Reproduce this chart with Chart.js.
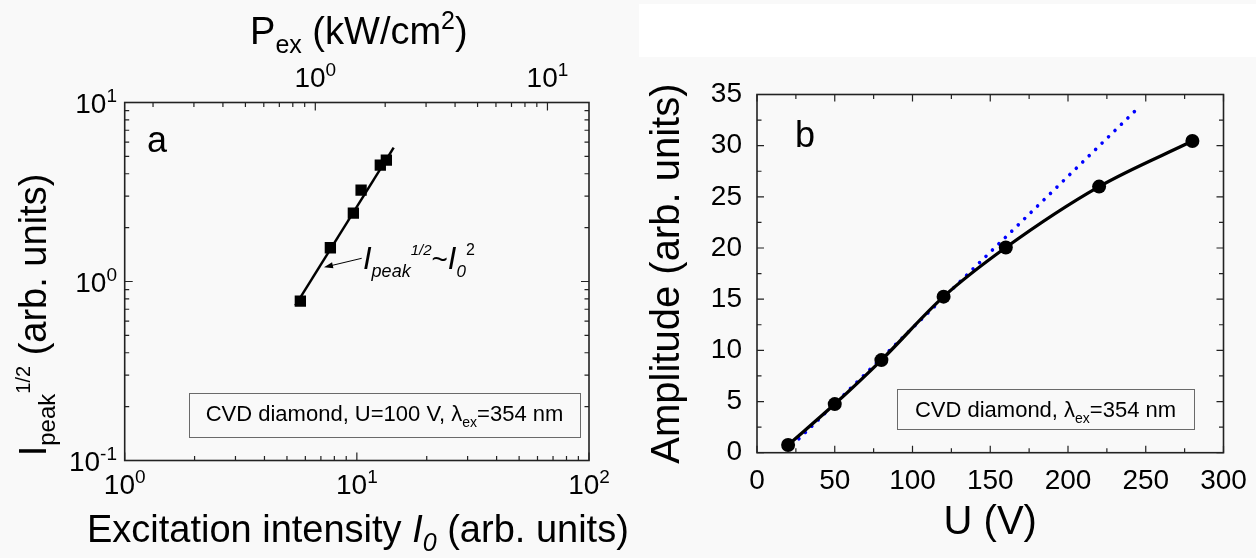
<!DOCTYPE html>
<html>
<head>
<meta charset="utf-8">
<script src="https://cdn.jsdelivr.net/npm/chart.js@4.4.1/dist/chart.umd.min.js"></script>
<style>
  html, body { margin: 0; padding: 0; background: #f9f9f9; }
  body { width: 1256px; height: 558px; position: relative; overflow: hidden; }
  #hoja { position: absolute; left: 639px; top: 4px; width: 617px; height: 53px; background: #fff; }
  #graficoA { position: absolute; left: 0; top: 0; }
  #graficoB { position: absolute; left: 640px; top: 0; }
</style>
</head>
<body>
<div id="hoja"></div>
<canvas id="graficoA" width="640" height="558"></canvas>
<canvas id="graficoB" width="616" height="558"></canvas>
<script>
// --- DATOS PANEL A (log-log) ---
const intensidadI0 = [5.71, 7.69, 9.66, 10.43, 12.62, 13.40];
const picoRaiz = [0.776, 1.544, 2.41, 3.24, 4.47, 4.77];
const ajusteI0 = [5.43, 14.41];
const ajustePico = [0.734, 5.60];
const ticksI0 = [1, 2, 3, 4, 5, 6, 7, 8, 9, 10, 20, 30, 40, 50, 60, 70, 80, 90, 100];
const ticksPico = [0.1, 0.2, 0.3, 0.4, 0.5, 0.6, 0.7, 0.8, 0.9, 1, 2, 3, 4, 5, 6, 7, 8, 9, 10];
const ticksPex = [0.2, 0.3, 0.4, 0.5, 0.6, 0.7, 0.8, 0.9, 1, 2, 3, 4, 5, 6, 7, 8, 9, 10];
const rangoPex = [0.151, 15.1];

// --- DATOS PANEL B (lineal) ---
const voltajeU = [20, 50, 80, 120, 160, 220, 280];
const amplitud = [0.75, 4.75, 9.05, 15.25, 20.05, 26.0, 30.45];
const rectaU = [22.8, 243.5];
const rectaAmp = [0.75, 33.45];
const ticksU = [0, 25, 50, 75, 100, 125, 150, 175, 200, 225, 250, 275, 300];
const ticksAmp = [0, 2.5, 5, 7.5, 10, 12.5, 15, 17.5, 20, 22.5, 25, 27.5, 30, 32.5, 35];

const F = '"Liberation Sans", Arial, Helvetica, sans-serif';

function esDecada(v) {
    const l = Math.log10(v);
    return Math.abs(l - Math.round(l)) < 1e-6;
}

// dibuja texto con sub/superindices: tramos = [{t, f, dy}]
function dibujarTramos(ctx, tramos, x, y, alinear) {
    let ancho = 0;
    tramos.forEach(tr => { ctx.font = tr.f; ancho += ctx.measureText(tr.t).width; });
    let cx = x;
    if (alinear === 'center') cx = x - ancho / 2;
    if (alinear === 'right') cx = x - ancho;
    ctx.textAlign = 'left';
    ctx.textBaseline = 'alphabetic';
    tramos.forEach(tr => {
        ctx.font = tr.f;
        ctx.fillText(tr.t, cx, y + (tr.dy || 0));
        cx += ctx.measureText(tr.t).width;
    });
}

function etiquetaPotencia(ctx, valor, x, y, alinear) {
    const exp = String(Math.round(Math.log10(valor)));
    dibujarTramos(ctx, [
        { t: '10', f: '28px ' + F },
        { t: exp, f: '19px ' + F, dy: -11 }
    ], x, y, alinear);
}

function leyenda(ctx, x, y, w, h, tramos, base) {
    ctx.strokeStyle = '#6a6a6a';
    ctx.lineWidth = 1;
    ctx.strokeRect(x + 0.5, y + 0.5, w, h);
    dibujarTramos(ctx, tramos, x + w / 2, base, 'center');
}

// --- PLUGIN PANEL A: marco, ticks, etiquetas y titulos ---
const marcoA = {
    id: 'marcoA',
    afterDatasetsDraw(chart) {
        const { ctx, chartArea: a, scales } = chart;
        const sx = scales.x, sy = scales.y, sp = scales.xP;
        ctx.save();
        ctx.strokeStyle = '#222';
        ctx.lineWidth = 1.6;
        ctx.strokeRect(a.left, a.top, a.right - a.left, a.bottom - a.top);

        ctx.lineWidth = 1.2;
        ctx.beginPath();
        ticksI0.forEach(v => {
            const px = sx.getPixelForValue(v), l = esDecada(v) ? 8 : 4.5;
            ctx.moveTo(px, a.bottom); ctx.lineTo(px, a.bottom - l);
        });
        ticksPex.forEach(v => {
            const px = sp.getPixelForValue(v), l = esDecada(v) ? 8 : 4.5;
            ctx.moveTo(px, a.top); ctx.lineTo(px, a.top + l);
        });
        ticksPico.forEach(v => {
            const py = sy.getPixelForValue(v), l = esDecada(v) ? 8 : 4.5;
            ctx.moveTo(a.left, py); ctx.lineTo(a.left + l, py);
            ctx.moveTo(a.right, py); ctx.lineTo(a.right - l, py);
        });
        ctx.stroke();

        ctx.fillStyle = '#000';
        ticksI0.filter(esDecada).forEach(v => etiquetaPotencia(ctx, v, sx.getPixelForValue(v), 494, 'center'));
        ticksPex.filter(esDecada).forEach(v => etiquetaPotencia(ctx, v, sp.getPixelForValue(v), 87, 'center'));
        ticksPico.filter(esDecada).forEach(v => etiquetaPotencia(ctx, v, 117, sy.getPixelForValue(v) + 10, 'right'));

        // titulos de ejes
        dibujarTramos(ctx, [
            { t: 'Excitation intensity ', f: '38px ' + F },
            { t: 'I', f: 'italic 38px ' + F },
            { t: '0', f: 'italic 25px ' + F, dy: 9 },
            { t: ' (arb. units)', f: '38px ' + F }
        ], (a.left + a.right) / 2 + 1, 542, 'center');

        dibujarTramos(ctx, [
            { t: 'P', f: '38px ' + F },
            { t: 'ex', f: '25px ' + F, dy: 9 },
            { t: ' (kW/cm', f: '38px ' + F },
            { t: '2', f: '25px ' + F, dy: -15 },
            { t: ')', f: '38px ' + F }
        ], (a.left + a.right) / 2 + 2, 44, 'center');

        ctx.save();
        ctx.translate(46, 315);
        ctx.rotate(-Math.PI / 2);
        dibujarTramos(ctx, [
            { t: 'I', f: '38px ' + F },
            { t: 'peak', f: '24px ' + F, dy: 9 },
            { t: '1/2', f: '20px ' + F, dy: -16 },
            { t: ' (arb. units)', f: '38px ' + F }
        ], 0, 0, 'center');
        ctx.restore();

        // letra del panel
        ctx.font = '36px ' + F;
        ctx.textAlign = 'left';
        ctx.fillText('a', 147, 152);

        // anotacion con flecha
        dibujarTramos(ctx, [
            { t: 'I', f: 'italic 31px ' + F },
            { t: 'peak', f: 'italic 18px ' + F, dy: 8 },
            { t: '1/2', f: 'italic 15px ' + F, dy: -14 },
            { t: '~', f: '28px ' + F },
            { t: 'I', f: 'italic 31px ' + F },
            { t: '0', f: 'italic 17px ' + F, dy: 8 },
            { t: '2', f: '16px ' + F, dy: -14 }
        ], 363, 269, 'left');
        const x0 = 361.7, y0 = 258.3, x1 = 324, y1 = 267.3;
        const ang = Math.atan2(y1 - y0, x1 - x0);
        ctx.strokeStyle = '#000';
        ctx.lineWidth = 1;
        ctx.beginPath();
        ctx.moveTo(x0, y0); ctx.lineTo(x1 - 6 * Math.cos(ang), y1 - 6 * Math.sin(ang));
        ctx.stroke();
        ctx.beginPath();
        ctx.moveTo(x1, y1);
        ctx.lineTo(x1 - 9 * Math.cos(ang) + 3 * Math.sin(ang), y1 - 9 * Math.sin(ang) - 3 * Math.cos(ang));
        ctx.lineTo(x1 - 9 * Math.cos(ang) - 3 * Math.sin(ang), y1 - 9 * Math.sin(ang) + 3 * Math.cos(ang));
        ctx.closePath();
        ctx.fill();

        leyenda(ctx, 189, 393, 391, 44, [
            { t: 'CVD diamond, U=100 V, λ', f: '22px ' + F },
            { t: 'ex', f: '14px ' + F, dy: 6 },
            { t: '=354 nm', f: '22px ' + F }
        ], 421);
        ctx.restore();
    }
};

// --- PLUGIN PANEL B ---
const marcoB = {
    id: 'marcoB',
    afterDatasetsDraw(chart) {
        const { ctx, chartArea: a, scales } = chart;
        const sx = scales.x, sy = scales.y;
        ctx.save();
        ctx.strokeStyle = '#222';
        ctx.lineWidth = 1.6;
        ctx.strokeRect(a.left, a.top, a.right - a.left, a.bottom - a.top);
        ctx.lineWidth = 1.2;
        ctx.beginPath();
        ticksU.forEach(v => {
            const px = sx.getPixelForValue(v), l = v % 50 === 0 ? 7 : 4.5;
            ctx.moveTo(px, a.bottom); ctx.lineTo(px, a.bottom - l);
            ctx.moveTo(px, a.top); ctx.lineTo(px, a.top + l);
        });
        ticksAmp.forEach(v => {
            const py = sy.getPixelForValue(v), l = v % 5 === 0 ? 7 : 4.5;
            ctx.moveTo(a.left, py); ctx.lineTo(a.left + l, py);
            ctx.moveTo(a.right, py); ctx.lineTo(a.right - l, py);
        });
        ctx.stroke();

        ctx.fillStyle = '#000';
        ctx.font = '36px ' + F;
        ctx.textAlign = 'left';
        ctx.textBaseline = 'alphabetic';
        ctx.fillText('b', 155, 147);

        leyenda(ctx, 257, 389, 297, 40, [
            { t: 'CVD diamond, λ', f: '22px ' + F },
            { t: 'ex', f: '14px ' + F, dy: 6 },
            { t: '=354 nm', f: '22px ' + F }
        ], 417);
        ctx.restore();
    }
};

const aPuntos = (xs, ys) => xs.map((x, i) => ({ x: x, y: ys[i] }));

// --- GRAFICO A ---
new Chart(document.getElementById('graficoA'), {
    type: 'scatter',
    data: {
        datasets: [
            {
                data: aPuntos(intensidadI0, picoRaiz),
                pointStyle: 'rect',
                pointRadius: 8,
                pointBackgroundColor: '#000',
                pointBorderWidth: 0,
                showLine: false
            },
            {
                data: aPuntos(ajusteI0, ajustePico),
                showLine: true,
                borderColor: '#000',
                borderWidth: 2.5,
                pointRadius: 0
            }
        ]
    },
    options: {
        responsive: false,
        animation: false,
        layout: { padding: { left: 124.7, top: 102.5, right: 51, bottom: 97.5 } },
        plugins: { legend: { display: false }, tooltip: { enabled: false } },
        scales: {
            x: { type: 'logarithmic', min: 1, max: 100, display: false },
            y: { type: 'logarithmic', min: 0.1, max: 10, display: false },
            xP: { type: 'logarithmic', axis: 'x', position: 'top', min: rangoPex[0], max: rangoPex[1], display: false }
        }
    },
    plugins: [marcoA]
});

// --- GRAFICO B ---
new Chart(document.getElementById('graficoB'), {
    type: 'scatter',
    data: {
        datasets: [
            {
                data: aPuntos(voltajeU, amplitud),
                showLine: true,
                cubicInterpolationMode: 'monotone',
                borderColor: '#000',
                borderWidth: 3.3,
                pointRadius: 7,
                pointBackgroundColor: '#000',
                pointBorderWidth: 0
            },
            {
                data: aPuntos(rectaU, rectaAmp),
                showLine: true,
                borderColor: '#0000ff',
                borderWidth: 3.6,
                borderDash: [0.01, 9],
                borderCapStyle: 'round',
                pointRadius: 0
            }
        ]
    },
    options: {
        responsive: false,
        animation: false,
        layout: { padding: { left: 0, top: 94.5, right: 32.5, bottom: 0 } },
        plugins: { legend: { display: false }, tooltip: { enabled: false } },
        scales: {
            x: {
                min: 0, max: 300,
                grid: { display: false },
                border: { display: false },
                ticks: { stepSize: 50, padding: 4, color: '#000', font: { family: F, size: 28 } },
                title: { display: true, text: 'U (V)', color: '#000', font: { family: F, size: 40 }, padding: { bottom: 11 } },
                afterFit: s => { s.height = 105.3; s.paddingLeft = 0; s.paddingRight = 0; }
            },
            y: {
                min: 0, max: 35,
                grid: { display: false },
                border: { display: false },
                ticks: { stepSize: 5, padding: 7, color: '#000', font: { family: F, size: 28 } },
                title: { display: true, text: 'Amplitude (arb. units)', color: '#000', font: { family: F, size: 40 }, padding: { top: 4 } },
                afterFit: s => { s.width = 117; s.paddingTop = 0; s.paddingBottom = 0; }
            }
        }
    },
    plugins: [marcoB]
});
</script>
</body>
</html>
